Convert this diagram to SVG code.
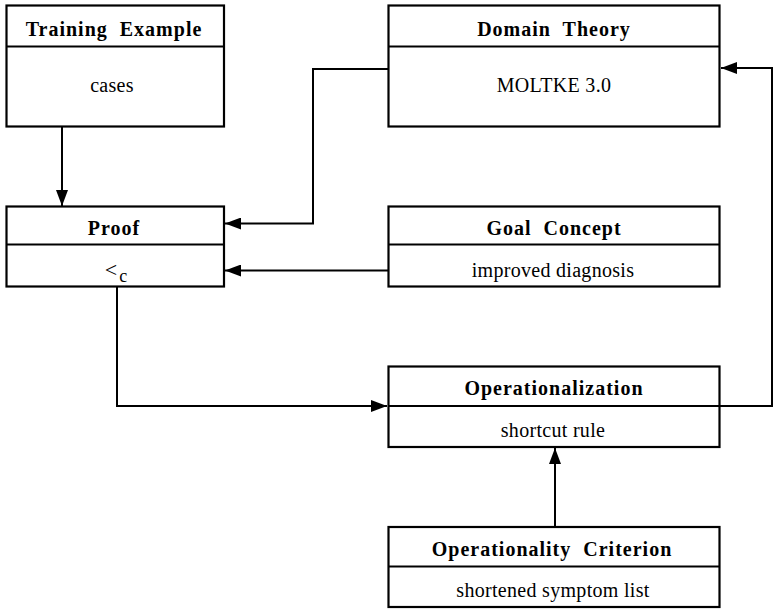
<svg xmlns="http://www.w3.org/2000/svg" width="778" height="612" viewBox="0 0 778 612">
<style>
.box{fill:#fff;stroke:#000;stroke-width:2.2}
.div{stroke:#000;stroke-width:2.2}
.h{font-family:"Liberation Serif","Times New Roman",serif;font-weight:bold;font-size:20px;letter-spacing:1px;text-anchor:middle;fill:#000}
.b{font-family:"Liberation Serif","Times New Roman",serif;font-size:20px;letter-spacing:0.3px;text-anchor:middle;fill:#000}
.c{fill:none;stroke:#000;stroke-width:2}
</style>
<defs>
<marker id="ah" viewBox="0 0 16 12" refX="16" refY="6" markerWidth="16" markerHeight="12" markerUnits="userSpaceOnUse" orient="auto">
<path d="M0,0 L16,6 L0,12 Z" fill="#000"/>
</marker>
</defs>
<rect width="778" height="612" fill="#fff"/>
<g id="connectors">
<path class="c" d="M62,127 V206" marker-end="url(#ah)"/>
<path class="c" d="M388,69 H313 V223.5 H225" marker-end="url(#ah)"/>
<path class="c" d="M388,270.5 H225" marker-end="url(#ah)"/>
<path class="c" d="M117,287 V406 H387" marker-end="url(#ah)"/>
<path class="c" d="M720,406 H772 V68 H721" marker-end="url(#ah)"/>
<path class="c" d="M555,527 V448" marker-end="url(#ah)"/>
</g>
<g id="training-example">
<rect class="box" x="6.5" y="5.5" width="217.5" height="121"/>
<line class="div" x1="6.5" y1="46.5" x2="224" y2="46.5"/>
<text class="h" x="114" y="36" xml:space="preserve">Training  Example</text>
<text class="b" x="112" y="92">cases</text>
</g>
<g id="domain-theory">
<rect class="box" x="388.5" y="5.5" width="331" height="121"/>
<line class="div" x1="388.5" y1="46.5" x2="719.5" y2="46.5"/>
<text class="h" x="554" y="36" xml:space="preserve">Domain  Theory</text>
<text class="b" x="554" y="92">MOLTKE 3.0</text>
</g>
<g id="proof">
<rect class="box" x="6.5" y="206.5" width="217.5" height="80"/>
<line class="div" x1="6.5" y1="244.5" x2="224" y2="244.5"/>
<text class="h" x="114" y="235">Proof</text>
<text class="b" x="116" y="277" style="letter-spacing:0;font-size:22px"><tspan>&lt;</tspan><tspan font-size="18" dx="2" dy="5">c</tspan></text>
</g>
<g id="goal-concept">
<rect class="box" x="388.5" y="206.5" width="331" height="80"/>
<line class="div" x1="388.5" y1="244.5" x2="719.5" y2="244.5"/>
<text class="h" x="554" y="235" xml:space="preserve">Goal  Concept</text>
<text class="b" x="553" y="277">improved diagnosis</text>
</g>
<g id="operationalization">
<rect class="box" x="388.5" y="366.5" width="331" height="80.5"/>
<line class="div" x1="388.5" y1="406" x2="719.5" y2="406"/>
<text class="h" x="554" y="395">Operationalization</text>
<text class="b" x="553" y="437">shortcut rule</text>
</g>
<g id="operationality-criterion">
<rect class="box" x="388.5" y="527" width="331" height="80"/>
<line class="div" x1="388.5" y1="566.5" x2="719.5" y2="566.5"/>
<text class="h" x="552" y="556" xml:space="preserve">Operationality  Criterion</text>
<text class="b" x="553" y="597">shortened symptom list</text>
</g>
</svg>
